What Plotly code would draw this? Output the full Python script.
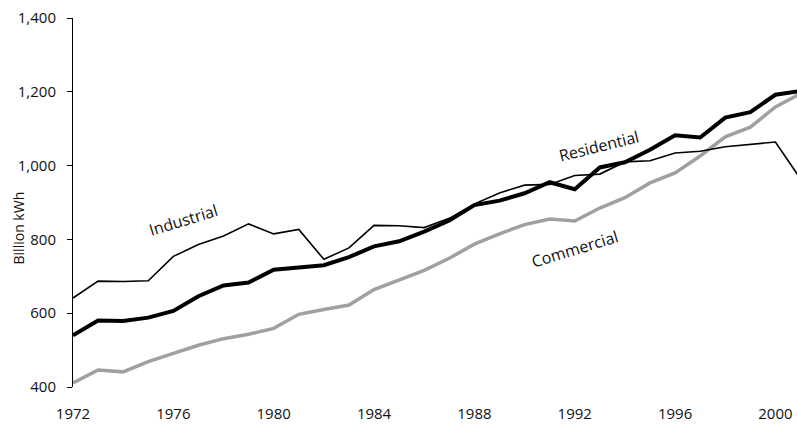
import plotly.graph_objects as go

years = list(range(1972, 2002))

industrial = [641, 687, 686, 688, 754, 786, 809, 842, 815, 827, 746, 777,
              838, 837, 832, 857, 896, 926, 947, 949, 973, 977, 1010, 1013,
              1034, 1039, 1051, 1058, 1064, 964]
residential = [540, 580, 579, 588, 606, 646, 675, 683, 718, 723, 730, 752,
               781, 795, 821, 851, 893, 905, 925, 955, 936, 995, 1009, 1043,
               1082, 1076, 1130, 1145, 1192, 1202]
commercial = [411, 446, 441, 469, 491, 513, 531, 543, 559, 597, 610, 622,
              664, 690, 716, 749, 787, 815, 840, 855, 850, 885, 913, 953,
              980, 1026, 1078, 1104, 1159, 1195]

y_ticks = [400, 600, 800, 1000, 1200, 1400]
x_ticks = [1972, 1976, 1980, 1984, 1988, 1992, 1996, 2000]

FONT = "Open Sans"
INK = "#111111"

fig = go.Figure()

fig.add_trace(go.Scatter(x=years, y=commercial, mode="lines",
                         line=dict(color="#a0a0a0", width=3.5), name="Commercial"))
fig.add_trace(go.Scatter(x=years, y=industrial, mode="lines",
                         line=dict(color="#000000", width=1.6), name="Industrial"))
fig.add_trace(go.Scatter(x=years, y=residential, mode="lines",
                         line=dict(color="#000000", width=4), name="Residential"))

# series labels placed along the lines
labels = [("Industrial", 1976.4, 853, -17),
          ("Residential", 1992.97, 1053, -14),
          ("Commercial", 1992.0, 774, -17)]
for text, lx, ly, ang in labels:
    fig.add_annotation(x=lx, y=ly, text=text, showarrow=False, textangle=ang,
                       font=dict(family=FONT, size=16, color=INK))

# y axis title
fig.add_annotation(xref="paper", yref="paper", x=-54.5 / 724, y=0.431,
                   text="Billion kWh", showarrow=False, textangle=-90,
                   xanchor="center", yanchor="middle",
                   font=dict(family=FONT, size=14, color=INK))

fig.update_xaxes(range=[1972, 2000.86], tickvals=x_ticks, showgrid=False,
                 zeroline=False, showline=False, ticks="",
                 ticklabelstandoff=16, automargin=False,
                 ticklabeloverflow="allow",
                 tickfont=dict(family=FONT, size=15, color=INK))
fig.update_yaxes(range=[400, 1400], tickvals=y_ticks, tickformat=",",
                 showgrid=False, zeroline=False, showline=True,
                 linecolor="#000000", linewidth=1, ticks="outside",
                 ticklen=5, tickcolor="#000000", ticklabelstandoff=8,
                 automargin=False, ticklabeloverflow="allow",
                 tickfont=dict(family=FONT, size=15, color=INK))

fig.update_layout(width=797, height=428, showlegend=False,
                  plot_bgcolor="#ffffff", paper_bgcolor="#ffffff",
                  margin=dict(l=73, r=0, t=18, b=41))

# drop the default body margin so the figure fills the window exactly
fig.write_html("out.html", config={"displayModeBar": False},
               post_script="document.body.style.margin='0';"
                           "document.body.style.overflow='hidden';")
